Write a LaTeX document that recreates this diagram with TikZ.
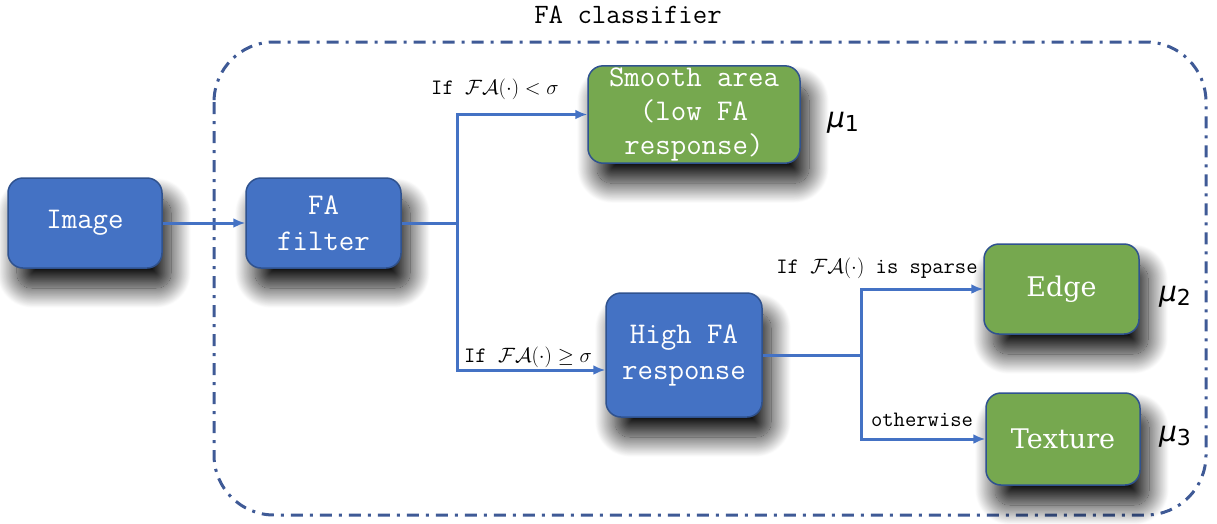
\documentclass[tikz,border=0pt]{standalone}
\usepackage{fontspec}
\newfontfamily\edgefont{DejaVu Serif}
\newfontfamily\mufont{DejaVu Sans}
\usetikzlibrary{arrows.meta,shadows.blur,calc}
\definecolor{boxblue}{HTML}{4472C4}
\definecolor{boxgreen}{HTML}{76A84F}
\definecolor{edgeblue}{HTML}{2F528F}
\definecolor{frameblue}{HTML}{3F5A96}
\tikzset{
  boxbase/.style={rounded corners=15pt, draw=edgeblue, line width=1.5pt, text=white,
    align=center, inner sep=2pt,
    blur shadow={shadow xshift=9pt, shadow yshift=-20pt, shadow blur radius=20pt,
      shadow opacity=95, shadow blur steps=30}},
  bluebox/.style={boxbase, fill=boxblue, font=\ttfamily\fontsize{30}{36}\selectfont},
  greenbox/.style={boxbase, fill=boxgreen, font=\ttfamily\fontsize{30}{34}\selectfont},
  greenserif/.style={boxbase, fill=boxgreen, font=\edgefont\fontsize{27}{32}\selectfont},
  conn/.style={draw=boxblue, line width=3pt},
  arr/.style={conn, -{Latex[length=12pt,width=10pt]}},
  lbl/.style={font=\ttfamily\fontsize{22}{24}\selectfont, inner sep=0pt},
  mulbl/.style={font=\mufont\itshape\fontsize{28}{30}\selectfont, inner sep=0pt},
}
\begin{document}
\begin{tikzpicture}[x=1pt,y=-1pt]
\useasboundingbox (0,0) rectangle (1217,523);
% frame
\draw[frameblue, line width=3pt, rounded corners=60pt,
      dash pattern=on 12pt off 7pt on 3pt off 7pt] (214,42) rectangle (1206,515);
\node[font=\ttfamily\fontsize{28}{30}\selectfont, inner sep=0pt] (title) at (628,15) {FA classifier};
% boxes
\node[bluebox, minimum width=154pt, minimum height=90pt] (img) at (85,223) {Image};
\node[bluebox, minimum width=155pt, minimum height=90pt] (fa) at (323.5,223) {FA\\filter};
\node[greenbox, minimum width=212pt, minimum height=91pt] (smooth) at (694,114.5) {Smooth area\\(low FA\\response)};
\node[bluebox, minimum width=156pt, minimum height=124pt] (high) at (684,355) {High FA\\response};
\node[greenserif, minimum width=155pt, minimum height=90pt] (edge) at (1061.5,289) {Edge};
\node[greenserif, minimum width=154pt, minimum height=92pt] (tex) at (1063,439) {Texture};
% branch points
\coordinate (br1) at (457,223);
\coordinate (br2) at (861,355);
% connectors
\draw[arr] (img.east) -- (fa.west);
\draw[conn] (fa.east) -- (br1);
\draw[arr] (br1) |- (smooth.west);
\draw[arr] (br1) |- ([yshift=-15pt]high.west);
\draw[conn] (high.east) -- (br2);
\draw[arr] (br2) |- (edge.west);
\draw[arr] (br2) |- (tex.west);
% labels
\node[lbl] (l1) at (495,89) {If $\mathcal{F}\mathcal{A}(\cdot) < \sigma$};
\node[lbl] (l2) at (528,357) {If $\mathcal{F}\mathcal{A}(\cdot) \geq \sigma$};
\node[lbl] (l3) at (877,268) {If $\mathcal{F}\mathcal{A}(\cdot)$ is sparse};
\node[lbl] (l4) at (922,420) {otherwise};
\node[mulbl] (m1) at (843,123) {μ\raisebox{-0.25ex}{\upshape\fontsize{22}{24}\selectfont 1}};
\node[mulbl] (m2) at (1175,297) {μ\raisebox{-0.25ex}{\upshape\fontsize{22}{24}\selectfont 2}};
\node[mulbl] (m3) at (1175,437) {μ\raisebox{-0.25ex}{\upshape\fontsize{22}{24}\selectfont 3}};
\end{tikzpicture}
\end{document}
